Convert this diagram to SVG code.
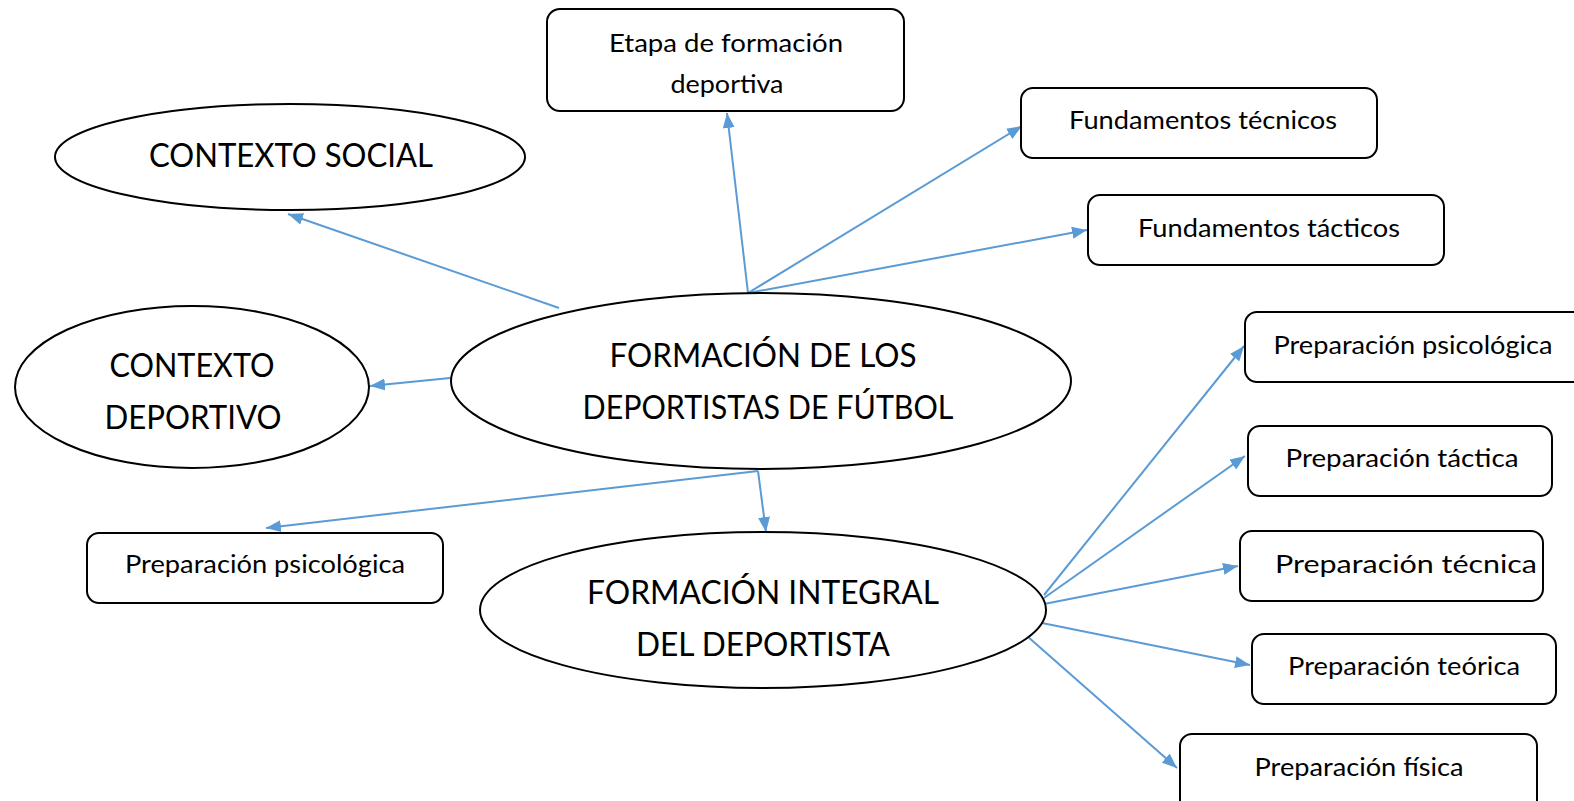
<svg xmlns="http://www.w3.org/2000/svg" width="1574" height="801" viewBox="0 0 1574 801">
<defs>
<style>
.box{fill:#fff;stroke:#000;stroke-width:2}
.ell{fill:#fff;stroke:#000;stroke-width:2}
.s{font-family:Lato,"Open Sans",sans-serif;font-size:25px;fill:#000;text-anchor:middle}
.b{font-family:Lato,"Open Sans",sans-serif;font-size:33px;fill:#000;text-anchor:middle}
.c{stroke:#5B9BD5;stroke-width:2;fill:none;marker-end:url(#ah)}
</style>
<marker id="ah" markerUnits="userSpaceOnUse" markerWidth="16" markerHeight="12" refX="15" refY="6" orient="auto">
<path d="M0,0 L15,6 L0,12 z" fill="#5B9BD5"/>
</marker>
</defs>
<g id="connectors">
<line class="c" x1="748" y1="293" x2="727" y2="113"/>
<line class="c" x1="748" y1="293" x2="1022" y2="126"/>
<line class="c" x1="748" y1="293" x2="1087" y2="230"/>
<line class="c" x1="559" y1="308" x2="288" y2="214"/>
<line class="c" x1="450" y1="378" x2="370" y2="386"/>
<line class="c" x1="758" y1="471" x2="266" y2="528"/>
<line class="c" x1="758" y1="471" x2="766" y2="532"/>
<line class="c" x1="1044" y1="595" x2="1244" y2="346"/>
<line class="c" x1="1044" y1="598" x2="1245" y2="456"/>
<line class="c" x1="1044" y1="604" x2="1238" y2="566"/>
<line class="c" x1="1042" y1="623" x2="1250" y2="665"/>
<line class="c" x1="1027" y1="636" x2="1177" y2="768"/>
</g>
<g id="etapa"><rect class="box" x="547" y="9" width="357" height="102" rx="13"/>
<text class="s" x="726" y="52" textLength="234" lengthAdjust="spacingAndGlyphs">Etapa de formación</text>
<text class="s" x="727" y="93" textLength="113" lengthAdjust="spacingAndGlyphs">deportiva</text></g>
<g id="fund-tecnicos"><rect class="box" x="1021" y="88" width="356" height="70" rx="12"/>
<text class="s" x="1203" y="129" textLength="268" lengthAdjust="spacingAndGlyphs">Fundamentos técnicos</text></g>
<g id="fund-tacticos"><rect class="box" x="1088" y="195" width="356" height="70" rx="12"/>
<text class="s" x="1269" y="237" textLength="262" lengthAdjust="spacingAndGlyphs">Fundamentos tácticos</text></g>
<g id="contexto-social"><ellipse class="ell" cx="290" cy="157" rx="235" ry="53"/>
<text class="b" x="291" y="167" textLength="284" lengthAdjust="spacingAndGlyphs">CONTEXTO SOCIAL</text></g>
<g id="contexto-deportivo"><ellipse class="ell" cx="192" cy="387" rx="177" ry="81"/>
<text class="b" x="192" y="377" textLength="165" lengthAdjust="spacingAndGlyphs">CONTEXTO</text>
<text class="b" x="193" y="429" textLength="177" lengthAdjust="spacingAndGlyphs">DEPORTIVO</text></g>
<g id="formacion-deportistas"><ellipse class="ell" cx="761" cy="381" rx="310" ry="88"/>
<text class="b" x="763" y="367" textLength="307" lengthAdjust="spacingAndGlyphs">FORMACIÓN DE LOS</text>
<text class="b" x="768" y="419" textLength="371" lengthAdjust="spacingAndGlyphs">DEPORTISTAS DE FÚTBOL</text></g>
<g id="prep-psicologica-izq"><rect class="box" x="87" y="533" width="356" height="70" rx="12"/>
<text class="s" x="265" y="573" textLength="280" lengthAdjust="spacingAndGlyphs">Preparación psicológica</text></g>
<g id="formacion-integral"><ellipse class="ell" cx="763" cy="610" rx="283" ry="78"/>
<text class="b" x="763" y="604" textLength="352" lengthAdjust="spacingAndGlyphs">FORMACIÓN INTEGRAL</text>
<text class="b" x="763" y="656" textLength="254" lengthAdjust="spacingAndGlyphs">DEL DEPORTISTA</text></g>
<g id="prep-psicologica-der"><rect class="box" x="1245" y="312" width="340" height="70" rx="12"/>
<text class="s" x="1413" y="354" textLength="279" lengthAdjust="spacingAndGlyphs">Preparación psicológica</text></g>
<g id="prep-tactica"><rect class="box" x="1248" y="426" width="304" height="70" rx="12"/>
<text class="s" x="1402" y="467" textLength="233" lengthAdjust="spacingAndGlyphs">Preparación táctica</text></g>
<g id="prep-tecnica"><rect class="box" x="1240" y="531" width="303" height="70" rx="12"/>
<text class="s" x="1406" y="573" textLength="262" lengthAdjust="spacingAndGlyphs">Preparación técnica</text></g>
<g id="prep-teorica"><rect class="box" x="1252" y="634" width="304" height="70" rx="12"/>
<text class="s" x="1404" y="675" textLength="232" lengthAdjust="spacingAndGlyphs">Preparación teórica</text></g>
<g id="prep-fisica"><rect class="box" x="1180" y="734" width="357" height="80" rx="12"/>
<text class="s" x="1359" y="776" textLength="209" lengthAdjust="spacingAndGlyphs">Preparación física</text></g>
</svg>
